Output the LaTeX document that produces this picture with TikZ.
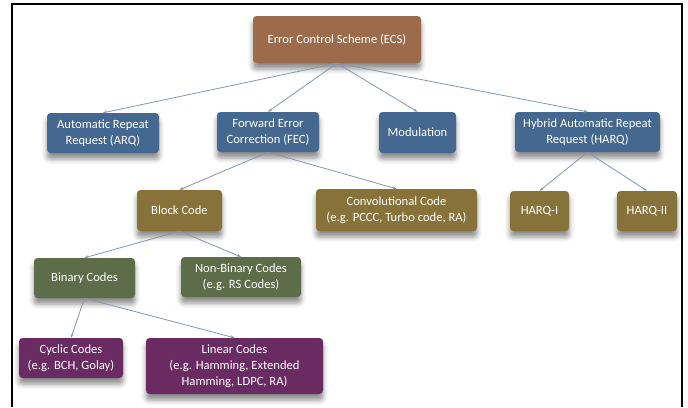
\documentclass[tikz,border=0pt]{standalone}
\usepackage{fontspec}
\setmainfont{Carlito}
\usetikzlibrary{shadows.blur, arrows.meta}

\definecolor{ecsbrown}{HTML}{9C6B4C}
\definecolor{topblue}{HTML}{44688F}
\definecolor{codeolive}{HTML}{87723A}
\definecolor{codegreen}{HTML}{5D6D49}
\definecolor{codepurple}{HTML}{6A2B63}
\definecolor{linkgrey}{HTML}{8496AC}

\tikzset{
  box/.style={rounded corners=3.5pt, text=white, align=center,
    inner sep=0pt, font=\fontsize{12.6}{16}\selectfont,
    blur shadow={shadow xshift=0pt, shadow yshift=-6pt,
      shadow blur radius=5pt, shadow opacity=45}},
  link/.style={draw=linkgrey, line width=0.8pt,
    -{Stealth[length=4pt,width=3pt]}}
}

\begin{document}
\begin{tikzpicture}[x=1pt,y=-1pt]
  \useasboundingbox (0,0) rectangle (688,407);
  % open frame: left, top and right sides
  \draw[line width=1.6pt] (12,407) -- (12,4) -- (682,4) -- (682,407);

  % root
  \node[box, fill=ecsbrown, minimum width=168pt, minimum height=47pt]
    (ecs) at (337,39.5) {Error Control Scheme (ECS)};

  % first level
  \node[box, fill=topblue, minimum width=112pt, minimum height=40pt]
    (arq) at (103,133) {Automatic Repeat\\Request (ARQ)};
  \node[box, fill=topblue, minimum width=102pt, minimum height=40pt]
    (fec) at (268,132) {Forward Error\\Correction (FEC)};
  \node[box, fill=topblue, minimum width=77pt, minimum height=41pt]
    (mod) at (417.5,132.5) {Modulation};
  \node[box, fill=topblue, minimum width=145pt, minimum height=40pt]
    (harq) at (587.5,132) {Hybrid Automatic Repeat\\Request (HARQ)};

  % second level
  \node[box, fill=codeolive, minimum width=85pt, minimum height=41pt]
    (block) at (179.5,210.5) {Block Code};
  \node[box, fill=codeolive, minimum width=161pt, minimum height=42pt]
    (conv) at (396.5,210) {Convolutional Code\\(e.g. PCCC, Turbo code, RA)};
  \node[box, fill=codeolive, minimum width=59pt, minimum height=40pt]
    (harqa) at (539.5,211) {HARQ-I};
  \node[box, fill=codeolive, minimum width=60pt, minimum height=40pt]
    (harqb) at (647,211) {HARQ-II};

  % third level
  \node[box, fill=codegreen, minimum width=101pt, minimum height=40pt]
    (bin) at (84.5,278) {Binary Codes};
  \node[box, fill=codegreen, minimum width=120pt, minimum height=40pt]
    (nonbin) at (241,277) {Non-Binary Codes\\(e.g. RS Codes)};

  % fourth level
  \node[box, fill=codepurple, minimum width=104pt, minimum height=40pt]
    (cyc) at (71,358) {Cyclic Codes\\(e.g. BCH, Golay)};
  \node[box, fill=codepurple, minimum width=177pt, minimum height=56pt]
    (lin) at (234.5,366) {Linear Codes\\(e.g. Hamming, Extended\\Hamming, LDPC, RA)};

  % connectors
  \draw[link] (ecs.south) -- (arq.north);
  \draw[link] (ecs.south) -- (fec.north);
  \draw[link] (ecs.south) -- (mod.north);
  \draw[link] (ecs.south) -- (harq.north);
  \draw[link] (fec.south) -- (block.north);
  \draw[link] (fec.south) -- (conv.north);
  \draw[link] (harq.south) -- (harqa.north);
  \draw[link] (harq.south) -- (harqb.north);
  \draw[link] (block.south) -- (bin.north);
  \draw[link] (block.south) -- (nonbin.north);
  \draw[link] (bin.south) -- (cyc.north);
  \draw[link] (bin.south) -- (lin.north);
\end{tikzpicture}
\end{document}
